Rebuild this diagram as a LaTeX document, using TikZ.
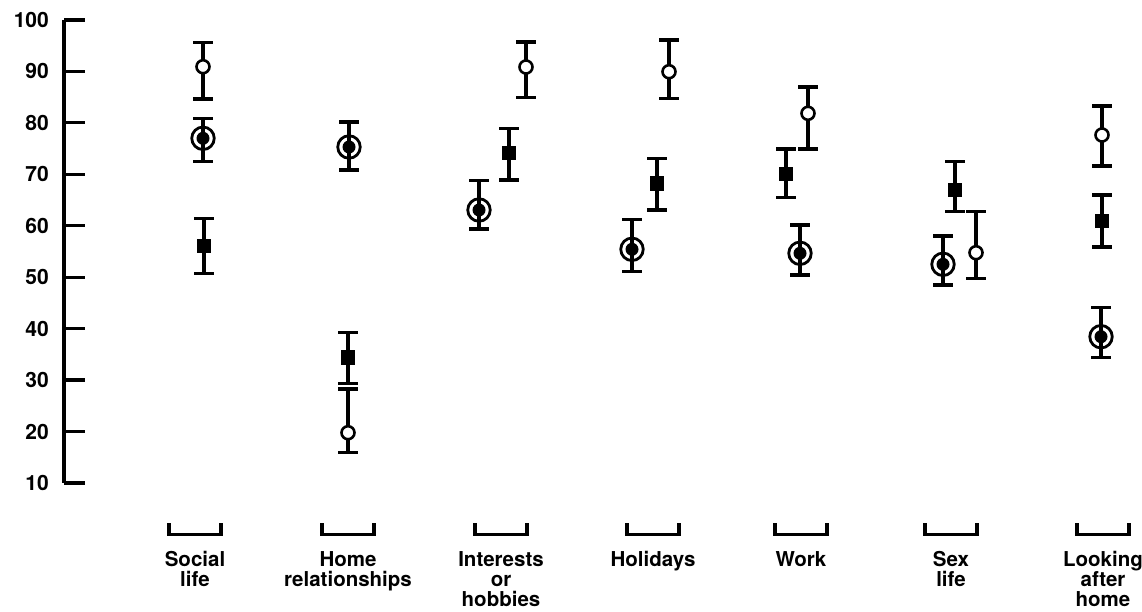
\documentclass[tikz,border=0pt]{standalone}
\usepackage{fontspec}
\setmainfont{TeX Gyre Heros}
\begin{document}
\begin{tikzpicture}[x=1pt,y=-1pt,
  bar/.style={line width=3.2pt},
  opencirc/.style={circle,draw,fill=white,line width=2.6pt,minimum size=13pt,inner sep=0pt},
  ringc/.style={circle,draw,line width=2.8pt,minimum size=22.5pt,inner sep=0pt},
  ringdot/.style={circle,fill,minimum size=13pt,inner sep=0pt},
  sqm/.style={rectangle,fill,minimum size=14.5pt,inner sep=0pt},
  ticklab/.style={anchor=east,inner sep=0pt,font=\fontsize{21}{24}\selectfont\bfseries},
  catlab/.style={anchor=base,inner sep=0pt,align=center,font=\fontsize{20.5}{20}\selectfont\bfseries}]
\useasboundingbox (0,0) rectangle (1142,612);
\newcommand\ebars[3]{\draw[bar] (#1-10,#2) -- (#1+10,#2) (#1,#2) -- (#1,#3) (#1-10,#3) -- (#1+10,#3);}
\newcommand\mkopen[5]{\ebars{#2}{#4}{#5}\node[opencirc] (#1) at (#2,#3) {};}
\newcommand\mkring[5]{\ebars{#2}{#4}{#5}\node[ringc] (#1) at (#2,#3) {};\node[ringdot] (#1-dot) at (#1) {};}
\newcommand\mksq[5]{\ebars{#2}{#4}{#5}\node[sqm] (#1) at (#2,#3) {};}
% axis
\draw[bar] (64,20) -- (64,483);
\foreach \v [count=\i] in {100,90,80,70,60,50,40,30,20,10}{
  \pgfmathsetmacro\yy{20+(100-\v)*5.144}
  \draw[bar] (64,\yy) -- (85,\yy);
  \node[ticklab] (t\i) at (49,\yy) {\v};
}
% Social life
\mkopen{so-o}{203}{66.7}{42.7}{99}
\mkring{so-r}{203}{138.3}{118.3}{161.7}
\mksq{so-s}{204}{246}{218.3}{273.3}
% Home relationships
\mkring{ho-r}{349}{147}{122}{170}
\mksq{ho-s}{348}{357.7}{332.3}{383.3}
\mkopen{ho-o}{348}{432.7}{389}{452.7}
% Interests
\mkring{in-r}{479}{210}{180.7}{229}
\mksq{in-s}{509}{153}{128.3}{180}
\mkopen{in-o}{526}{67}{42}{97.7}
% Holidays
\mkring{hd-r}{632}{249.3}{219.3}{271.7}
\mksq{hd-s}{657}{183.3}{158.3}{210}
\mkopen{hd-o}{669}{71.7}{40}{98.3}
% Work
\mksq{wo-s}{786}{174}{149}{197.7}
\mkring{wo-r}{800}{253.3}{225}{275}
\mkopen{wo-o}{808}{113.3}{87}{149}
% Sex life
\mksq{se-s}{955}{190}{161.7}{211.7}
\mkring{se-r}{943}{264.3}{236}{285}
\mkopen{se-o}{976}{252.7}{211.7}{278.3}
% Looking after home
\mkopen{lo-o}{1102}{135}{106}{166}
\mksq{lo-s}{1102}{221}{195}{247}
\mkring{lo-r}{1101}{336.7}{307.3}{357.7}
% brackets and labels (base = last line)
\foreach \cx/\n/\lab [count=\i] in {195/1/{Social\\life},348/1/{Home\\relationships},501/2/{Interests\\or\\hobbies},653/0/{Holidays},801/0/{Work},951/1/{Sex\\life},1103/2/{Looking\\after\\home}}{
  \draw[bar] (\cx-26,523) -- (\cx-26,534.5) -- (\cx+26,534.5) -- (\cx+26,523);
  \node[catlab] (c\i) at (\cx,566+20*\n) {\lab};
}
\end{tikzpicture}
\end{document}
